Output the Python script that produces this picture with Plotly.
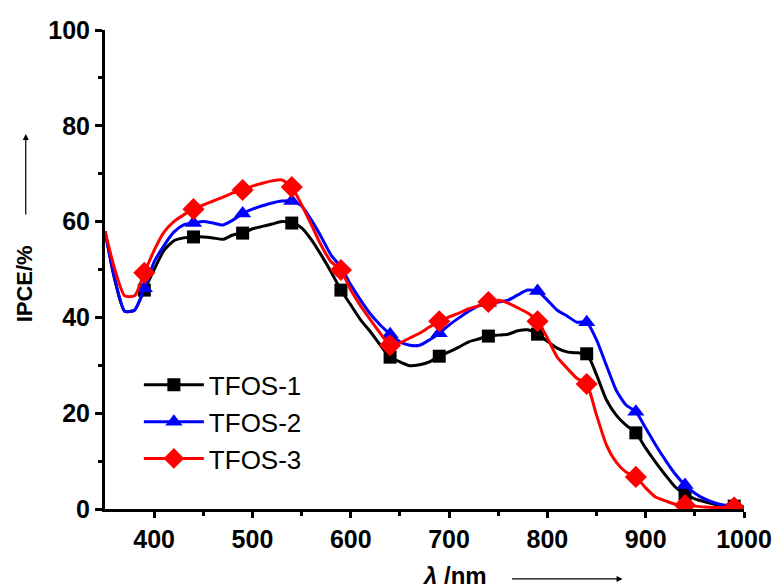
import plotly.graph_objects as go

# Wavelength grid for the smooth curves (nm)
wl = [350, 360, 370, 380, 390, 400, 410, 420, 430, 440, 450, 460, 470, 480, 490,
      500, 510, 520, 530, 540, 550, 560, 570, 580, 590, 600, 610, 620, 630, 640,
      650, 660, 670, 680, 690, 700, 710, 720, 730, 740, 750, 760, 770, 780, 790,
      800, 810, 820, 830, 840, 850, 860, 870, 880, 890, 900, 910, 920, 930, 940,
      950, 960, 970, 980, 990, 1000]

tfos1 = [58.0, 47.8, 41.3, 41.5, 45.7, 50.0, 54.0, 56.0, 56.6, 56.8, 56.8, 56.6, 56.3, 57.2, 57.6,
         58.5, 59.0, 59.5, 60.0, 59.7, 58.7, 56.2, 53.0, 49.5, 45.7, 42.6, 39.5, 37.0, 34.2, 31.7,
         30.7, 29.9, 30.1, 30.7, 31.9, 32.8, 33.8, 34.9, 35.5, 36.1, 36.3, 36.5, 37.2, 37.4, 36.5,
         35.0, 33.6, 32.8, 32.6, 32.4, 28.0, 22.8, 19.6, 17.5, 15.9, 12.7, 9.8, 7.1, 4.6, 3.1,
         2.1, 1.5, 1.0, 0.6, 0.6, 0.2]

tfos2 = [58.0, 48.0, 41.3, 41.5, 46.1, 51.6, 55.0, 57.8, 59.3, 59.7, 60.0, 59.7, 59.3, 60.3, 61.7,
         62.6, 63.3, 63.9, 64.3, 64.3, 63.3, 60.3, 56.8, 53.0, 50.5, 46.8, 43.6, 40.7, 38.4, 36.5,
         34.9, 34.2, 34.2, 35.3, 36.7, 38.4, 39.9, 41.3, 42.4, 43.0, 43.2, 43.6, 44.7, 45.7, 45.5,
         43.6, 41.5, 40.3, 39.0, 39.0, 35.3, 30.0, 24.8, 21.7, 20.3, 16.9, 13.4, 10.2, 7.3, 5.0,
         3.3, 2.1, 1.3, 0.8, 1.0, 0.4]

tfos3 = [58.0, 50.0, 44.5, 44.5, 49.3, 54.0, 57.8, 60.0, 61.4, 62.6, 63.5, 64.3, 65.1, 66.0, 66.6,
         67.4, 68.0, 68.5, 68.7, 67.2, 63.5, 59.3, 55.0, 51.6, 49.9, 45.7, 42.4, 39.5, 36.7, 34.2,
         34.7, 35.7, 36.7, 38.0, 39.2, 40.1, 40.9, 41.8, 42.4, 43.2, 43.6, 43.0, 42.0, 40.9, 39.2,
         35.7, 31.7, 29.4, 27.3, 26.1, 19.6, 13.4, 9.8, 7.7, 6.7, 4.4, 2.5, 1.7, 1.0, 0.8,
         0.6, 0.4, 0.3, 0.3, 0.3, 0.2]

# Marker positions (every 50 nm from 390 nm)
marker_wl = [390, 440, 490, 540, 590, 640, 690, 740, 790, 840, 890, 940, 990]

x_ticks = [400, 500, 600, 700, 800, 900, 1000]
y_ticks = [0, 20, 40, 60, 80, 100]

series = [
    ("TFOS-1", tfos1, "#000000", "square", 13),
    ("TFOS-2", tfos2, "#0000ff", "triangle-up", 15),
    ("TFOS-3", tfos3, "#ff0000", "diamond", 17),
]

FONT = "Arial, Liberation Sans, sans-serif"

fig = go.Figure()
for name, vals, color, sym, size in series:
    lookup = dict(zip(wl, vals))
    fig.add_trace(go.Scatter(
        x=wl, y=vals, mode="lines",
        line=dict(color=color, width=3, shape="spline", smoothing=0.6),
        showlegend=False, hoverinfo="skip", legendgroup=name))
    fig.add_trace(go.Scatter(
        x=marker_wl, y=[lookup[w] for w in marker_wl], mode="markers", name=name,
        marker=dict(symbol=sym, size=size, color=color), legendgroup=name,
        showlegend=False))
    # legend-only entry showing line + marker
    fig.add_trace(go.Scatter(
        x=[None], y=[None], mode="lines+markers", name=name,
        line=dict(color=color, width=3),
        marker=dict(symbol=sym, size=size, color=color), legendgroup=name,
        showlegend=True))

fig.update_layout(
    width=784, height=588,
    margin=dict(l=105, r=34, t=30, b=79),
    plot_bgcolor="white", paper_bgcolor="white",
    font=dict(family=FONT, color="black"),
    showlegend=True,
    legend=dict(x=0.053, y=0.308, xanchor="left", yanchor="top",
                font=dict(size=26, family=FONT), bgcolor="rgba(0,0,0,0)",
                itemwidth=60, tracegroupgap=0),
    xaxis=dict(range=[350, 1000], tickvals=x_ticks,
               showline=True, linecolor="black", linewidth=3, ticks="outside",
               ticklen=6, tickwidth=3, tickcolor="black", showgrid=False, zeroline=False,
               tickfont=dict(size=25, family=FONT, weight="bold"),
               minor=dict(tickvals=[450, 550, 650, 750, 850, 950], ticks="outside",
                          ticklen=4, tickwidth=3, tickcolor="black")),
    yaxis=dict(range=[0, 100], tickvals=y_ticks,
               showline=True, linecolor="black", linewidth=3, ticks="outside",
               ticklen=7, tickwidth=3, tickcolor="black", showgrid=False, zeroline=False,
               tickfont=dict(size=25, family=FONT, weight="bold"),
               minor=dict(tickvals=[10, 30, 50, 70, 90], ticks="outside",
                          ticklen=4, tickwidth=3, tickcolor="black")),
)

# Axis titles and arrows (positions in paper coords)
fig.add_annotation(text="IPCE/%", xref="paper", yref="paper", x=-0.126, y=0.47,
                   textangle=-90, showarrow=False, xanchor="center", yanchor="middle",
                   font=dict(size=22, family=FONT, weight="bold"))
fig.add_annotation(text="<i>λ</i> /nm", xref="paper", yref="paper", x=0.547, y=-0.138,
                   showarrow=False, xanchor="center", yanchor="middle",
                   font=dict(size=24, family=FONT, weight="bold"))
fig.add_annotation(xref="paper", yref="paper", x=-0.124, y=0.783, ax=0, ay=82,
                   text="", showarrow=True, arrowhead=2, arrowsize=1, arrowwidth=1.2,
                   arrowcolor="black")
fig.add_annotation(xref="paper", yref="paper", x=0.81, y=-0.146, ax=-112, ay=0,
                   text="", showarrow=True, arrowhead=2, arrowsize=1, arrowwidth=1.2,
                   arrowcolor="black")

fig.write_html("out.html", config={"displayModeBar": False},
               post_script="document.body.style.margin='0';document.body.style.overflow='hidden';")
